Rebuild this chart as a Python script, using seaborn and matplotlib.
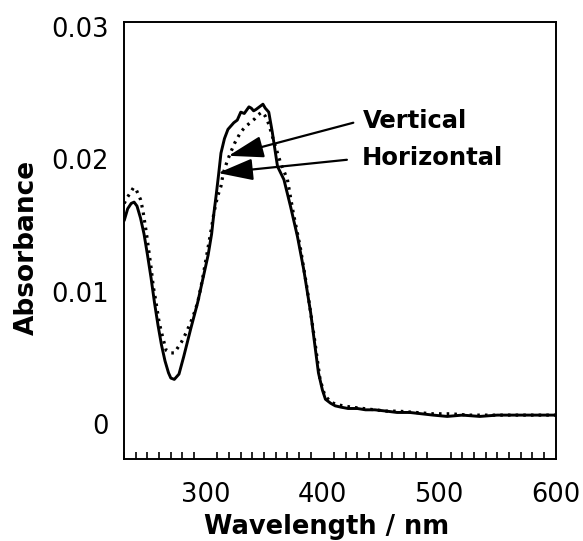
import pandas as pd
import numpy as np
import matplotlib
matplotlib.use("Agg")
import matplotlib.pyplot as plt
import matplotlib.transforms as mtransforms
import seaborn as sns

# --- dati (nm, absorbance) ---
wl_horiz = [230, 233, 236, 238.5, 241, 244, 247, 250, 253, 256, 259, 262, 265, 268, 270, 273,
            277, 281, 287, 293, 298, 302, 305, 307, 309, 311, 313, 316, 319, 322, 324, 327,
            330, 333, 337, 339, 341, 343, 346, 349, 351, 354, 357, 361.5, 367, 372.6, 378.6,
            384, 390, 396.6, 400, 402.6, 407, 411, 416, 422, 430, 437, 445, 455, 464, 475,
            485, 495, 507, 520, 535, 550, 565, 580, 595, 600]
abs_horiz = [0.0150, 0.0159, 0.0163, 0.0164, 0.0161, 0.0152, 0.0140, 0.0124, 0.0107, 0.0088,
             0.0071, 0.0056, 0.0044, 0.0035, 0.0031, 0.0030, 0.0034, 0.0047, 0.0068, 0.0088,
             0.0108, 0.0124, 0.0140, 0.0156, 0.0170, 0.0185, 0.0201, 0.0212, 0.0219, 0.0222,
             0.0224, 0.0226, 0.0232, 0.0231, 0.0236, 0.0235, 0.0233, 0.0234, 0.0236, 0.0238,
             0.0235, 0.0232, 0.0217, 0.0191, 0.0181, 0.0161, 0.0138, 0.0113, 0.0080, 0.0035,
             0.0022, 0.0015, 0.0012, 0.0010, 0.0009, 0.0008, 0.0008, 0.0007, 0.0007, 0.0006,
             0.0005, 0.0005, 0.0004, 0.0003, 0.0002, 0.0003, 0.0002, 0.0003, 0.0003, 0.0003,
             0.0003, 0.0003]

wl_vert = [230, 233, 236, 238, 240, 242, 244, 246, 249, 251, 253, 255, 257, 260, 263, 266,
           270, 273, 276, 279, 283, 287, 290, 293, 297, 302, 305, 307, 310, 313, 315, 318,
           321, 325, 330, 334, 338, 342, 345, 348, 351, 354, 358, 364, 370, 375, 381, 387,
           393, 398, 402, 407, 412, 418, 425, 435, 445, 455, 465, 480, 495, 510, 525, 540,
           555, 570, 585, 600]
abs_vert = [0.0163, 0.0168, 0.0172, 0.0175, 0.0174, 0.0170, 0.0166, 0.0158, 0.0141, 0.0128,
            0.0115, 0.0100, 0.0090, 0.0073, 0.0062, 0.0052, 0.0050, 0.0050, 0.0054, 0.0058,
            0.0065, 0.0073, 0.0080, 0.0088, 0.0105, 0.0130, 0.0145, 0.0156, 0.0168, 0.0176,
            0.0186, 0.0194, 0.0201, 0.0209, 0.0217, 0.0221, 0.0224, 0.0227, 0.0230, 0.0232,
            0.0229, 0.0223, 0.0211, 0.0194, 0.0181, 0.0156, 0.0130, 0.0098, 0.0062, 0.0030,
            0.0018, 0.0013, 0.0011, 0.0010, 0.0009, 0.0008, 0.0007, 0.0006, 0.0006, 0.0005,
            0.0004, 0.0004, 0.0003, 0.0003, 0.0003, 0.0003, 0.0003, 0.0003]

x_ticks = [300, 400, 500, 600]
y_ticks = [0, 0.01, 0.02, 0.03]
y_tick_labels = ["0", "0.01", "0.02", "0.03"]

sns.set_style("white")
plt.rcParams.update({
    "font.family": ["DejaVu Sans"],
    "text.color": "black",
    "axes.labelcolor": "black",
    "xtick.color": "black",
    "ytick.color": "black",
})

df_h = pd.DataFrame({"wl": wl_horiz, "abs": abs_horiz})
df_v = pd.DataFrame({"wl": wl_vert, "abs": abs_vert})

fig = plt.figure(figsize=(5.83, 5.41), dpi=100)
ax = fig.add_axes([0.213, 0.152, 0.74, 0.807])

sns.lineplot(data=df_h, x="wl", y="abs", color="black", linewidth=2.1, ax=ax, estimator=None)
sns.lineplot(data=df_v, x="wl", y="abs", color="black", linewidth=2.3, ax=ax, estimator=None,
             linestyle=(0, (0.8, 1.6)))

ax.set_xlim(230, 600)
ax.set_ylim(-0.003, 0.03)
ax.set_xticks(x_ticks)
ax.set_xticks(np.arange(230, 601, 10), minor=True)
ax.set_yticks(y_ticks)
ax.set_yticklabels(y_tick_labels)
ax.tick_params(axis="both", which="major", direction="in", length=10, width=1.3,
               labelsize=18.5, top=False, right=False, colors="black")
ax.tick_params(axis="x", which="major", pad=17)
ax.tick_params(axis="y", which="major", pad=11)
ax.tick_params(axis="x", which="minor", direction="in", length=5, width=1.2, bottom=True)
for sp in ax.spines.values():
    sp.set_linewidth(1.4)
    sp.set_color("black")

# le etichette y nell'originale stanno un po' sotto le tacche
shift = mtransforms.ScaledTranslation(0, -5 / 100, fig.dpi_scale_trans)
for lab in ax.get_yticklabels():
    lab.set_transform(lab.get_transform() + shift)

ax.set_xlabel("Wavelength / nm", fontsize=18.5, fontweight="bold", color="black")
ax.xaxis.set_label_coords(0.469, -0.126)
ax.set_ylabel("Absorbance", fontsize=19, fontweight="bold", color="black")
ax.yaxis.set_label_coords(-0.196, 0.483)

arrow = dict(arrowstyle="-|>,head_length=0.9,head_width=0.28", color="black", lw=1.6,
             shrinkA=0, shrinkB=0, mutation_scale=24)
ax.annotate("", xy=(319.5, 0.0199), xytext=(426.5, 0.0224), arrowprops=arrow)
ax.annotate("", xy=(310.5, 0.0186), xytext=(421, 0.0196), arrowprops=arrow)
ax.text(434.5, 0.0225, "Vertical", fontsize=17.5, fontweight="bold", va="center", ha="left",
        color="black")
ax.text(433.5, 0.0197, "Horizontal", fontsize=17.5, fontweight="bold", va="center", ha="left",
        color="black")

fig.savefig("out.png", dpi=100)
